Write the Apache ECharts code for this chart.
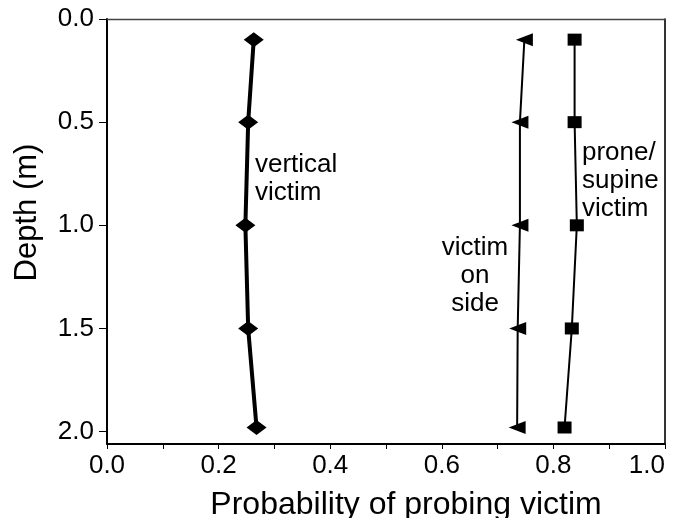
<!DOCTYPE html>
<html>
<head>
<meta charset="utf-8">
<script src="https://cdn.jsdelivr.net/npm/echarts@6/dist/echarts.min.js"></script>
<style>html,body{margin:0;padding:0;background:#fff}#c{width:683px;height:518px}</style>
</head>
<body>
<div id="c"></div>
<script>
const depths = [0.1, 0.5, 1.0, 1.5, 1.98];
const verticalVictim = [0.263, 0.253, 0.248, 0.253, 0.268];
const sideVictim = [0.748, 0.740, 0.740, 0.736, 0.735];
const proneVictim = [0.838, 0.838, 0.842, 0.833, 0.820];
const xTickValues = [0, 0.1, 0.2, 0.3, 0.4, 0.5, 0.6, 0.7, 0.8, 0.9, 1.0];
const xLabelValues = [0, 0.2, 0.4, 0.6, 0.8, 1.0];
const yTickValues = [0, 0.5, 1.0, 1.5, 2.0];

const FONT = 'Liberation Sans';
const pairs = arr => arr.map((v, i) => [v, depths[i]]);

const chart = echarts.init(document.getElementById('c'), null, {renderer: 'canvas'});
chart.setOption({
  animation: false,
  backgroundColor: '#fff',
  grid: {left: 107, right: 18, top: 19, bottom: 74, containLabel: false, outerBoundsMode: 'none'},
  xAxis: [{
    type: 'value', min: 0, max: 1, position: 'bottom',
    name: 'Probability of probing victim', nameLocation: 'middle', nameGap: 45,
    nameTextStyle: {fontFamily: FONT, fontSize: 32, color: '#000', padding: [0, 0, 0, 40]},
    axisLine: {show: true, onZero: false, lineStyle: {color: '#000', width: 2}},
    axisTick: {show: true, length: 5, lineStyle: {color: '#000', width: 1}, customValues: xTickValues},
    axisLabel: {fontFamily: FONT, fontSize: 26, color: '#000', margin: 9,
      customValues: xLabelValues, alignMaxLabel: 'right',
      formatter: v => v.toFixed(1)},
    splitLine: {show: false}
  }, {
    type: 'value', min: 0, max: 1, position: 'top',
    axisLine: {show: true, onZero: false, lineStyle: {color: '#444', width: 1.3}},
    axisTick: {show: false}, axisLabel: {show: false}, splitLine: {show: false}
  }],
  yAxis: [{
    type: 'value', min: 0, max: 2.06, inverse: true, position: 'left',
    name: 'Depth (m)', nameLocation: 'middle', nameGap: 64,
    nameTextStyle: {fontFamily: FONT, fontSize: 31, color: '#000', padding: [0, 0, 0, 38]},
    axisLine: {show: true, onZero: false, lineStyle: {color: '#000', width: 2}},
    axisTick: {show: true, length: 8, lineStyle: {color: '#000', width: 1}, customValues: yTickValues},
    axisLabel: {fontFamily: FONT, fontSize: 26, color: '#000', margin: 13,
      customValues: yTickValues, formatter: v => v.toFixed(1)},
    splitLine: {show: false}
  }, {
    type: 'value', min: 0, max: 2.06, inverse: true, position: 'right',
    axisLine: {show: true, onZero: false, lineStyle: {color: '#000', width: 1.6}},
    axisTick: {show: false}, axisLabel: {show: false}, splitLine: {show: false}
  }],
  series: [{
    name: 'vertical victim', type: 'line', data: pairs(verticalVictim),
    symbol: 'diamond', symbolSize: [20, 15], showAllSymbol: true,
    lineStyle: {color: '#000', width: 4}, itemStyle: {color: '#000'}
  }, {
    name: 'victim on side', type: 'line', data: pairs(sideVictim),
    symbol: 'triangle', symbolRotate: 90, symbolSize: [13, 17], showAllSymbol: true,
    lineStyle: {color: '#000', width: 2}, itemStyle: {color: '#000'}
  }, {
    name: 'prone/supine victim', type: 'line', data: pairs(proneVictim),
    symbol: 'rect', symbolSize: [14, 12], showAllSymbol: true,
    lineStyle: {color: '#000', width: 2}, itemStyle: {color: '#000'}
  }],
  graphic: [{
    type: 'text', left: 255, top: 151,
    style: {text: 'vertical\nvictim', font: '26px "Liberation Sans"', fill: '#000', lineHeight: 28}
  }, {
    type: 'text', left: 582, top: 139,
    style: {text: 'prone/\nsupine\nvictim', font: '26px "Liberation Sans"', fill: '#000', lineHeight: 28}
  }, {
    type: 'text', x: 475, y: 234,
    style: {text: 'victim\non\nside', font: '26px "Liberation Sans"', fill: '#000', lineHeight: 28, align: 'center'}
  }]
});
</script>
</body>
</html>
